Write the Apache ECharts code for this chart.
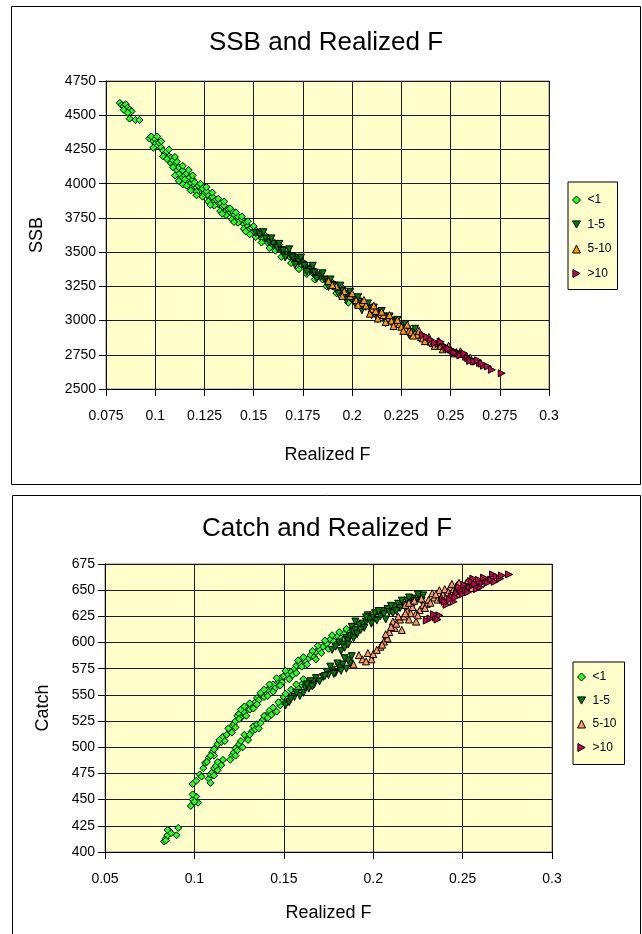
<!DOCTYPE html>
<html>
<head>
<meta charset="utf-8">
<script src="https://cdn.jsdelivr.net/npm/echarts@6/dist/echarts.min.js"></script>
<style>
  html, body { margin: 0; padding: 0; background: #ffffff; }
  #chart { width: 642px; height: 934px; }
</style>
</head>
<body>
<div id="chart"></div>
<script>
// Category names (years to recovery bins)
const binNames = ['<1', '1-5', '5-10', '>10'];

// Tick labels
const ssbFTicks = ['0.075', '0.1', '0.125', '0.15', '0.175', '0.2', '0.225', '0.25', '0.275', '0.3'];
const ssbTicks = ['2500', '2750', '3000', '3250', '3500', '3750', '4000', '4250', '4500', '4750'];
const catchFTicks = ['0.05', '0.1', '0.15', '0.2', '0.25', '0.3'];
const catchTicks = ['400', '425', '450', '475', '500', '525', '550', '575', '600', '625', '650', '675'];

// SSB vs realized F, one array per bin: [F, SSB]
const ssbLt1 = [
  [0.082,4590],[0.083,4575],[0.084,4565],[0.085,4580],[0.086,4555],[0.084,4540],[0.087,4540],[0.088,4528],
  [0.086,4518],[0.087,4475],[0.090,4465],[0.092,4465],
  [0.097,4330],[0.098,4345],[0.099,4310],[0.100,4325],[0.100,4290],[0.101,4275],[0.102,4300],[0.099,4262],
  [0.103,4265],[0.104,4240],[0.105,4220],[0.106,4235],[0.107,4200],[0.108,4190],[0.108,4150],[0.109,4170],
  [0.110,4140],[0.111,4160],[0.111,4100],[0.112,4120],[0.113,4080],[0.113,4040],[0.114,4095],[0.115,4060],
  [0.116,4020],[0.116,4075],[0.117,4040],[0.118,4000],[0.119,4030],[0.120,3990],[0.120,4010],[0.121,3970],
  [0.122,3985],[0.123,3950],[0.124,3965],[0.125,3930],[0.126,3945],[0.127,3910],[0.128,3890],[0.129,3905],
  [0.130,3870],[0.131,3885],[0.132,3850],[0.133,3860],[0.134,3830],[0.135,3840],[0.136,3805],[0.137,3815],
  [0.138,3790],[0.139,3800],[0.140,3770],[0.141,3745],[0.142,3760],[0.143,3725],[0.144,3740],[0.145,3705],
  [0.146,3720],[0.147,3690],[0.148,3670],[0.149,3680],[0.150,3650],[0.151,3660],[0.152,3630],[0.153,3615],
  [0.155,3600],[0.156,3585],[0.157,3570],[0.158,3580],[0.160,3545],[0.161,3555],[0.163,3520],[0.165,3500],
  [0.166,3480],[0.168,3470],[0.170,3445],[0.172,3430],[0.174,3410],[0.176,3395],[0.178,3360],[0.180,3345],
  [0.182,3330],[0.185,3300],[0.188,3270],[0.190,3250],[0.193,3225],[0.196,3190],[0.200,3160],
  [0.101,4345],[0.103,4310],[0.104,4200],[0.106,4180],[0.107,4250],[0.109,4120],[0.110,4195],[0.112,4070],
  [0.114,4130],[0.115,4030],[0.117,4100],[0.118,3965],[0.119,4060],[0.121,3940],[0.123,4000],[0.124,3905],
  [0.126,3975],[0.127,3870],[0.129,3935],[0.130,3840],[0.132,3890],[0.133,3800],[0.135,3870],[0.136,3770],
  [0.138,3820],[0.139,3740],[0.141,3790],[0.142,3715],[0.144,3760],[0.145,3670],[0.147,3725],[0.148,3630],
  [0.150,3690],[0.151,3610],[0.153,3650],[0.154,3570],[0.156,3620],[0.158,3530],[0.159,3590],[0.161,3510],
  [0.163,3555],[0.164,3465],[0.167,3505],[0.169,3420],[0.171,3470],[0.173,3375],[0.175,3425],[0.177,3340],
  [0.179,3390],[0.181,3300],[0.184,3340],[0.187,3250],[0.189,3290],[0.192,3200],[0.195,3240],[0.198,3130],
  [0.110,4060],[0.112,4020],[0.114,3995],[0.116,3985],[0.118,3950],[0.121,3915],[0.128,3845],[0.134,3780],
  [0.140,3720],[0.146,3650]
];
const ssb1to5 = [
  [0.151,3640],[0.153,3630],[0.156,3600],[0.158,3570],[0.160,3560],[0.162,3530],[0.164,3515],[0.165,3510],
  [0.167,3480],[0.169,3470],[0.170,3460],[0.172,3445],[0.173,3430],[0.175,3410],[0.176,3400],[0.178,3380],
  [0.179,3370],[0.180,3355],[0.181,3350],[0.183,3330],[0.184,3320],[0.186,3300],[0.187,3295],[0.188,3280],
  [0.190,3260],[0.191,3255],[0.192,3240],[0.194,3220],[0.195,3215],[0.197,3195],[0.198,3185],[0.200,3170],
  [0.201,3160],[0.203,3140],[0.204,3135],[0.206,3115],[0.207,3100],[0.209,3090],[0.210,3080],[0.212,3060],
  [0.214,3045],[0.216,3030],[0.218,3010],[0.220,3000],[0.222,2985],[0.225,2960],[0.228,2935],[0.231,2915],
  [0.234,2890],
  [0.155,3645],[0.159,3600],[0.163,3560],[0.166,3460],[0.168,3520],[0.171,3405],[0.174,3460],[0.177,3355],
  [0.180,3400],[0.182,3305],[0.185,3345],[0.188,3245],[0.189,3300],[0.193,3195],[0.194,3255],[0.197,3150],
  [0.199,3210],[0.202,3110],[0.203,3170],[0.205,3075],[0.208,3125],[0.210,3040],[0.211,3095],[0.213,3010],
  [0.215,3070],[0.217,2980],[0.219,3030],[0.221,2955],[0.223,3005],[0.226,2925],[0.227,2975],[0.229,2895],
  [0.232,2940]
];
const ssb5to10 = [
  [0.188,3290],[0.192,3250],[0.196,3215],[0.199,3180],[0.202,3150],[0.205,3130],[0.207,3110],[0.210,3085],
  [0.212,3070],[0.214,3045],[0.216,3040],[0.218,3020],[0.220,3000],[0.222,2980],[0.224,2975],[0.225,2955],
  [0.227,2945],[0.229,2925],[0.230,2915],[0.232,2905],[0.233,2895],[0.235,2880],[0.236,2870],[0.238,2860],
  [0.240,2845],[0.241,2835],[0.243,2830],[0.245,2815],[0.247,2800],[0.250,2790],[0.253,2770],[0.256,2755],
  [0.260,2730],
  [0.190,3260],[0.195,3180],[0.200,3200],[0.203,3115],[0.206,3150],[0.209,3050],[0.211,3110],[0.213,3015],
  [0.215,3065],[0.217,2990],[0.219,3040],[0.221,2960],[0.223,3005],[0.226,2925],[0.228,2970],[0.231,2890],
  [0.234,2925],[0.237,2850],[0.239,2880],[0.242,2815],[0.244,2850],[0.246,2790],[0.249,2815],[0.252,2760],
  [0.255,2775],[0.258,2740]
];
const ssbGt10 = [
  [0.236,2895],[0.240,2860],[0.244,2830],[0.247,2815],[0.248,2800],[0.250,2790],[0.251,2780],[0.253,2770],
  [0.254,2760],[0.256,2755],[0.258,2735],[0.259,2725],[0.260,2705],[0.263,2700],[0.265,2690],[0.267,2670],
  [0.269,2665],[0.271,2640],[0.276,2615],
  [0.238,2880],[0.242,2835],[0.245,2845],[0.249,2795],[0.252,2765],[0.255,2745],[0.257,2760],[0.262,2700],
  [0.264,2710],[0.266,2685]
];

// Catch vs realized F, one array per bin: [F, Catch]
const catchLt1 = [
  [0.083,410],[0.084,413],[0.085,416],[0.086,420],[0.085,421],[0.087,418],[0.090,416],[0.091,423],[0.084,411],
  [0.098,444],[0.099,450],[0.101,453],[0.102,447],[0.099,455],[0.100,448],
  [0.099,465],[0.101,468],[0.103,474],[0.105,480],[0.106,485],[0.108,490],[0.110,495],[0.111,492],[0.112,500],
  [0.113,503],[0.115,505],[0.116,510],[0.118,512],[0.120,516],[0.121,520],[0.122,522],[0.123,525],[0.124,530],
  [0.125,532],[0.126,528],[0.127,535],[0.128,533],[0.130,538],[0.131,536],[0.132,540],[0.134,543],[0.135,547],
  [0.136,545],[0.138,550],[0.139,548],[0.140,553],[0.141,555],[0.143,557],[0.144,560],[0.145,556],[0.147,563],
  [0.148,566],[0.149,562],[0.150,568],[0.152,570],[0.154,572],[0.156,575],[0.157,578],[0.159,580],[0.160,577],
  [0.162,583],[0.164,585],[0.165,588],[0.167,586],[0.168,591],[0.170,593],[0.172,596],[0.174,599],[0.176,603],
  [0.178,601],[0.180,606],[0.182,604],[0.184,609],[0.186,611],[0.188,613],[0.190,615],
  [0.104,472],[0.107,486],[0.109,492],[0.111,498],[0.114,507],[0.117,506],[0.119,518],[0.121,514],[0.123,519],
  [0.125,527],[0.126,536],[0.128,539],[0.129,530],[0.131,542],[0.133,537],[0.135,541],[0.137,552],[0.139,555],
  [0.141,549],[0.142,560],[0.144,553],[0.146,566],[0.148,559],[0.151,573],[0.153,565],[0.155,569],[0.157,571],
  [0.158,583],[0.161,586],[0.163,579],[0.166,592],[0.168,584],[0.169,597],[0.171,590],[0.173,602],[0.175,594],
  [0.177,607],[0.179,598],[0.181,610],[0.183,602],[0.185,613],[0.187,607],
  [0.108,470],[0.109,474],[0.110,476],[0.111,480],[0.112,482],[0.113,478],[0.114,485],[0.115,483],[0.121,492],
  [0.122,495],[0.123,499],[0.124,497],[0.125,503],[0.126,506],[0.127,500],[0.129,510],[0.130,507],[0.132,515],
  [0.133,520],[0.134,517],[0.135,522],[0.136,518],[0.138,526],[0.140,530],[0.142,535],[0.143,531],[0.146,534],
  [0.148,540],[0.149,544],[0.150,548],[0.152,546],[0.155,551],[0.158,556],[0.160,560],[0.162,563],[0.164,559],
  [0.109,466],[0.111,473],[0.113,486],[0.116,488],[0.120,488],[0.123,492],[0.128,512],[0.131,512],[0.137,523],
  [0.139,530],[0.141,528],[0.144,538],[0.147,543],[0.151,551],[0.154,555],[0.157,560],[0.161,565]
];
const catch1to5 = [
  [0.151,540],[0.153,543],[0.156,548],[0.159,549],[0.161,552],[0.162,557],[0.164,556],[0.165,563],[0.167,560],
  [0.172,567],[0.174,572],[0.175,569],[0.177,574],[0.179,571],[0.181,576],[0.183,579],[0.185,575],[0.187,580],
  [0.186,583],[0.177,593],[0.179,596],[0.181,600],[0.183,598],[0.185,604],[0.186,602],[0.187,606],[0.188,615],
  [0.189,610],[0.190,612],[0.191,608],[0.192,617],[0.194,618],[0.195,614],[0.196,620],[0.197,626],[0.198,622],
  [0.200,624],[0.201,628],[0.202,621],[0.204,625],[0.205,630],[0.206,627],[0.208,632],[0.209,629],[0.211,628],
  [0.212,634],[0.214,637],[0.215,633],[0.217,636],[0.219,640],[0.221,637],[0.222,642],[0.224,640],[0.226,643],
  [0.228,645],
  [0.154,546],[0.157,552],[0.163,560],[0.166,558],[0.168,566],[0.170,563],[0.173,568],[0.176,577],[0.178,570],
  [0.180,580],[0.182,573],[0.184,585],[0.188,587],[0.182,592],[0.184,595],[0.186,598],[0.189,604],[0.190,620],
  [0.193,612],[0.196,624],[0.199,618],[0.203,630],[0.207,622],[0.210,635],[0.213,630],[0.216,640],[0.218,633],
  [0.220,643],[0.223,638],[0.225,646],[0.227,640]
];
const catch5to10 = [
  [0.189,579],[0.194,584],[0.197,590],[0.199,584],[0.200,589],[0.204,596],[0.206,601],[0.208,604],[0.209,610],
  [0.211,620],[0.212,614],[0.213,618],[0.215,622],[0.216,612],[0.217,625],[0.219,630],[0.221,628],[0.222,634],
  [0.224,628],[0.224,620],[0.226,631],[0.228,636],[0.230,637],[0.231,641],[0.233,647],[0.234,643],[0.236,641],
  [0.237,650],[0.239,646],[0.241,644],[0.243,653],[0.245,651],[0.247,655],[0.249,652],[0.252,657],[0.254,655],
  [0.218,636],[0.220,638],
  [0.192,588],[0.196,582],[0.202,593],[0.205,598],[0.207,608],[0.210,615],[0.214,625],[0.218,628],[0.220,622],
  [0.223,640],[0.225,626],[0.227,642],[0.229,633],[0.232,638],[0.235,646],[0.238,643],[0.240,651],[0.242,648],
  [0.244,656],[0.246,649],[0.248,657],[0.250,654],[0.253,659],[0.255,652]
];
const catchGt10 = [
  [0.232,623],[0.235,624],[0.237,626],[0.239,641],[0.241,636],[0.244,644],[0.245,639],[0.247,647],[0.249,650],
  [0.250,646],[0.252,650],[0.254,653],[0.256,655],[0.256,661],[0.258,651],[0.260,653],[0.261,657],[0.263,659],
  [0.266,660],[0.267,665],[0.269,663],[0.271,661],[0.276,665],
  [0.230,621],[0.234,627],[0.236,622],[0.240,639],[0.243,641],[0.246,643],[0.248,653],[0.251,655],[0.253,648],
  [0.255,658],[0.257,656],[0.259,660],[0.262,662],[0.264,657],[0.268,658],[0.272,664]
];

const FONT = '"Liberation Sans", Arial, sans-serif';
const SYM_DOWN = 'path://M0,0L10,0L5,9Z';
const SYM_RIGHT = 'path://M0,0L9,5L0,10Z';
const binSymbols = ['diamond', SYM_DOWN, 'triangle', SYM_RIGHT];
const topColors = ['#22FF22', '#008000', '#FF9900', '#CC0055'];
const bottomColors = ['#22FF22', '#008000', '#FF9966', '#CC0055'];

function scatter(name, data, idx, colors, axis) {
  return {
    type: 'scatter', name: name, data: data,
    xAxisIndex: axis, yAxisIndex: axis,
    symbol: binSymbols[idx], symbolSize: 7,
    itemStyle: { color: colors[idx], borderColor: '#000', borderWidth: 1, opacity: 1 },
    emphasis: { disabled: true },
    animation: false
  };
}

function legendData(colors) {
  return binNames.map((n, i) => ({ name: n, icon: binSymbols[i], itemStyle: { color: colors[i], borderColor: '#000', borderWidth: 1 } }));
}

const axisCommon = {
  type: 'value',
  axisLine: { show: true, onZero: false, lineStyle: { color: '#000', width: 1 } },
  axisTick: { show: true, length: 7, lineStyle: { color: '#000' } },
  splitLine: { show: true, lineStyle: { color: '#1a1a1a', width: 1 } },
  nameLocation: 'middle',
  nameTextStyle: { color: '#000', fontSize: 18, fontFamily: FONT }
};

function xAxis(grid, min, max, interval, ticks, gap) {
  return Object.assign({}, axisCommon, {
    gridIndex: grid, min: min, max: max, interval: interval,
    name: 'Realized F', nameGap: gap,
    axisLabel: { margin: 20, color: '#000', fontSize: 14, fontFamily: FONT, formatter: (v, i) => ticks[i] }
  });
}
function yAxis(grid, min, max, interval, ticks, name, gap) {
  return Object.assign({}, axisCommon, {
    gridIndex: grid, min: min, max: max, interval: interval,
    name: name, nameGap: gap,
    axisLabel: { margin: 10, color: '#000', fontSize: 14, fontFamily: FONT, formatter: (v, i) => ticks[i] }
  });
}

const chart = echarts.init(document.getElementById('chart'), null, { renderer: 'canvas' });
chart.setOption({
  animation: false,
  backgroundColor: '#ffffff',
  textStyle: { fontFamily: FONT },
  grid: [
    { left: 106, top: 81, width: 443, height: 308, show: true, backgroundColor: '#FFFFCC', borderColor: '#808080', borderWidth: 1 },
    { left: 105, top: 564, width: 447, height: 288, show: true, backgroundColor: '#FFFFCC', borderColor: '#808080', borderWidth: 1 }
  ],
  xAxis: [
    xAxis(0, 0.075, 0.3, 0.025, ssbFTicks, 57),
    xAxis(1, 0.05, 0.3, 0.05, catchFTicks, 52)
  ],
  yAxis: [
    yAxis(0, 2500, 4750, 250, ssbTicks, 'SSB', 60),
    yAxis(1, 400, 675, 25, catchTicks, 'Catch', 53)
  ],
  legend: [
    {
      orient: 'vertical', left: 568, top: 182, width: 48,
      padding: [10, 6, 8, 4], itemGap: 8.5, itemWidth: 8, itemHeight: 8,
      backgroundColor: '#FFFFCC', borderColor: '#000', borderWidth: 1, borderRadius: 0,
      selectedMode: false,
      textStyle: { color: '#000', fontSize: 12, lineHeight: 14, fontFamily: FONT, padding: [2, 0, 0, 2] },
      data: legendData(topColors)
    },
    {
      orient: 'vertical', left: 573, top: 662, width: 50,
      padding: [7, 8, 9, 4], itemGap: 7.5, itemWidth: 8, itemHeight: 8,
      backgroundColor: '#FFFFCC', borderColor: '#000', borderWidth: 1, borderRadius: 0,
      selectedMode: false,
      textStyle: { color: '#000', fontSize: 12, lineHeight: 14, fontFamily: FONT, padding: [2, 0, 0, 2] },
      data: legendData(bottomColors)
    }
  ],
  graphic: [
    { type: 'rect', silent: true, z: 100, shape: { x: 11.5, y: 6.5, width: 629, height: 478 }, style: { fill: 'none', stroke: '#000', lineWidth: 1 } },
    { type: 'rect', silent: true, z: 100, shape: { x: 12.5, y: 495.5, width: 628, height: 460 }, style: { fill: 'none', stroke: '#000', lineWidth: 1 } },
    { type: 'text', silent: true, x: 326, y: 43, style: { text: 'SSB and Realized F', font: '26px ' + FONT, fill: '#000', textAlign: 'center', textVerticalAlign: 'middle' } },
    { type: 'text', silent: true, x: 327, y: 529, style: { text: 'Catch and Realized F', font: '26px ' + FONT, fill: '#000', textAlign: 'center', textVerticalAlign: 'middle' } }
  ],
  series: [
    scatter(binNames[0], ssbLt1, 0, topColors, 0),
    scatter(binNames[1], ssb1to5, 1, topColors, 0),
    scatter(binNames[2], ssb5to10, 2, topColors, 0),
    scatter(binNames[3], ssbGt10, 3, topColors, 0),
    scatter(binNames[0], catchLt1, 0, bottomColors, 1),
    scatter(binNames[1], catch1to5, 1, bottomColors, 1),
    scatter(binNames[2], catch5to10, 2, bottomColors, 1),
    scatter(binNames[3], catchGt10, 3, bottomColors, 1)
  ]
});
</script>
</body>
</html>
